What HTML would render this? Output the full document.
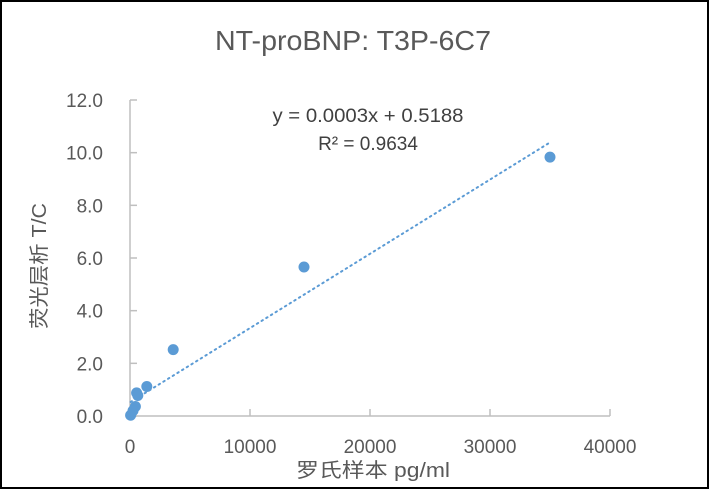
<!DOCTYPE html>
<html><head><meta charset="utf-8"><style>
html,body{margin:0;padding:0;background:#fff;}
svg{display:block;font-family:"Liberation Sans","Noto Sans CJK SC",sans-serif;}
</style></head><body>
<svg id="chart" width="709" height="489" viewBox="0 0 709 489">
<rect x="1" y="1" width="707" height="487" fill="#fff" stroke="#000" stroke-width="2"/>
<text x="353" y="50" font-size="28" fill="#595959" text-anchor="middle" textLength="276" lengthAdjust="spacingAndGlyphs">NT-proBNP: T3P-6C7</text>
<g id="axes"></g>
<g id="marks"></g>
<text x="368" y="122" font-size="19" fill="#404040" text-anchor="middle" textLength="191" lengthAdjust="spacingAndGlyphs">y = 0.0003x + 0.5188</text>
<text x="368" y="150" font-size="19" fill="#404040" text-anchor="middle">R² = 0.9634</text>
<text x="373" y="477" font-size="20" fill="#595959" text-anchor="middle" textLength="154" lengthAdjust="spacingAndGlyphs">罗氏样本 pg/ml</text>
<text transform="translate(46,266) rotate(-90)" font-size="20" fill="#595959" text-anchor="middle" textLength="126" lengthAdjust="spacingAndGlyphs">荧光层析 T/C</text>
</svg>
<script>
const xVals=[35000,14500,3600,1400,550,650,450,250,50];
const yVals=[9.83,5.66,2.52,1.12,0.88,0.78,0.36,0.2,0.03];
const xTicks=[0,10000,20000,30000,40000];
const yTicks=[0,2,4,6,8,10,12];
const trendSlope=0.000282, trendIntercept=0.5188;
const NS="http://www.w3.org/2000/svg";
const X=v=>130+v*(480/40000);
const Y=v=>416-v*(316/12);
function mk(tag,attrs,parent,txt){const e=document.createElementNS(NS,tag);for(const k in attrs)e.setAttribute(k,attrs[k]);if(txt!==undefined)e.textContent=txt;parent.appendChild(e);return e;}
const axes=document.getElementById('axes'), marks=document.getElementById('marks');
let e=mk('line',{x1:X(0),y1:Y(0),x2:X(40000),y2:Y(0),stroke:'#bfbfbf','stroke-width':1.5},axes);


e=mk('line',{x1:X(0),y1:Y(0),x2:X(0),y2:Y(12),stroke:'#bfbfbf','stroke-width':1.5},axes);


xTicks.forEach(t=>{
 let l=mk('line',{x1:X(t),y1:Y(0),x2:X(t),y2:Y(0)-7,stroke:'#bfbfbf','stroke-width':1.5},axes);
 
 
 let s=mk('text',{x:X(t),y:453,'font-size':19,fill:'#595959','text-anchor':'middle'},axes,String(t));
 
 
});
yTicks.forEach(t=>{
 let l=mk('line',{x1:X(0),y1:Y(t),x2:X(0)+7,y2:Y(t),stroke:'#bfbfbf','stroke-width':1.5},axes);
 
 
 let s=mk('text',{x:103,y:Y(t)+7,'font-size':19,fill:'#595959','text-anchor':'end'},axes,t.toFixed(1));
 
 
});
const xmin=Math.min(...xVals), xmax=Math.max(...xVals);
e=mk('line',{x1:X(xmin),y1:Y(trendSlope*xmin+trendIntercept),x2:X(xmax),y2:Y(trendSlope*xmax+trendIntercept),stroke:'#5b9bd5','stroke-width':2,'stroke-dasharray':'1.5 4','stroke-linecap':'round'},marks);


xVals.forEach((v,i)=>{
 let c=mk('circle',{cx:X(v),cy:Y(yVals[i]),r:5.5,fill:'#5b9bd5'},marks);
 
 
});
</script>
</body></html>
